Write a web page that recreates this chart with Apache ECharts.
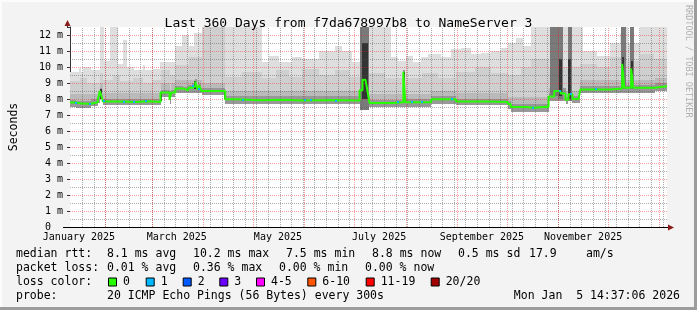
<!DOCTYPE html>
<html><head><meta charset="utf-8">
<script src="https://cdn.jsdelivr.net/npm/echarts@6/dist/echarts.min.js"></script>
<style>html,body{margin:0;padding:0;background:#f3f3f3}#c{width:697px;height:310px}</style>
</head><body><div id="c"></div>
<script>
// ---------- data ----------
const START = Date.UTC(2025,0,10,14,37,6);
const DAY = 86400000;
const SPAN_DAYS = 360;
const titleText = 'Last 360 Days from f7da678997b8 to NameServer 3';
const yTicks = [0,1,2,3,4,5,6,7,8,9,10,11,12];
const yMinor = [0.5,1.5,2.5,3.5,4.5,5.5,6.5,7.5,8.5,9.5,10.5,11.5];
const monthStarts = ['2025-02-01','2025-03-01','2025-04-01','2025-05-01','2025-06-01','2025-07-01','2025-08-01','2025-09-01','2025-10-01','2025-11-01','2025-12-01','2026-01-01'];
const weekAnchor = '2025-01-18';
const xLabels = ['January 2025','March 2025','May 2025','July 2025','September 2025','November 2025'];
const xLabelDates = ['2025-01-16','2025-03-16','2025-05-16','2025-07-16','2025-09-16','2025-11-16'];

// median rtt (ms), [day since start, value] step points
const medianPts = [[0,7.78],[3.6,7.72],[7,7.7],[12.6,7.8],[16.8,8.0],[18,8.5],[19.2,8.1],[19.8,7.85],[30,7.82],[40,7.86],[48,7.82],[54.6,8.4],[60,7.95],[61.2,8.4],[63.6,8.65],[68.4,8.55],[71.4,8.7],[73.8,8.8],[75.6,9.1],[76.8,8.6],[78,8.85],[79.2,8.5],[93.6,7.98],[100,7.92],[115.8,7.95],[128,7.9],[140,7.93],[160,7.9],[174.6,8.55],[176.4,9.2],[178.2,9.32],[179.4,8.5],[180.6,7.75],[195,7.8],[201,9.7],[202.2,7.8],[217.8,7.98],[232.8,7.85],[252,7.82],[264,7.68],[265.8,7.5],[274.8,7.45],[280,7.52],[286.8,7.5],[288.6,8.15],[292,8.5],[295.8,8.35],[298.8,7.95],[300.6,8.3],[303,8.0],[306.6,8.1],[307.8,8.6],[325.8,8.65],[333,10.2],[334.2,8.7],[338.4,9.9],[339.6,8.7],[352.8,8.8],[360,8.8]];
// smoke tops
const outerPts = [[0,9.7],[5.4,9.95],[6.6,9.7],[7.8,10.0],[12.6,9.8],[18,12.5],[20.4,10.4],[24,12.5],[28.8,10.2],[31.8,11.7],[34.2,10.0],[38.4,9.8],[43.8,10.1],[45,9.8],[49.8,9.9],[54,10.3],[63.6,11.3],[67.8,12.0],[72,11.3],[75,12.1],[79.8,12.5],[115.8,10.3],[120,10.7],[126,10.3],[133.8,10.6],[139.8,10.5],[150,11.0],[159.6,11.3],[163.8,11.0],[169.8,10.3],[174.6,12.5],[193.8,10.6],[198,10.4],[202.8,10.7],[207,10.3],[211.8,10.6],[216,10.8],[223.8,10.6],[229.8,11.1],[235.8,11.2],[241.8,10.8],[247.8,10.9],[253.8,11.0],[259.8,11.2],[264,11.5],[268.8,11.8],[273,11.3],[277.8,12.5],[309.6,11.0],[318,10.7],[325.8,11.5],[331.8,12.1],[334.8,12.5],[336.6,11.5],[343.8,12.5]];
const midPts = [[0,9.1],[6,9.3],[10,9.0],[18,9.6],[19.8,9.2],[26,9.5],[30,9.1],[37.8,9.3],[44,9.0],[50,9.2],[54.6,9.8],[60,9.5],[63.6,10.1],[72,10.6],[79.8,12.5],[93.6,9.4],[104,9.7],[115.8,9.3],[124,9.8],[132,9.4],[140,9.9],[150,9.5],[160,9.8],[168,9.4],[174.6,9.6],[190,9.3],[201,9.8],[202.2,9.3],[212,9.6],[222,9.3],[232.8,9.7],[244,10.0],[254,9.6],[264,9.5],[272,10.0],[277.8,10.5],[288.6,10.0],[307.8,10.2],[318,10.0],[325.8,10.6],[333,11.5],[336,10.4],[343.8,10.8],[352,10.5]];
const innerPts = [[0,8.3],[16.8,8.5],[18,9.0],[19.8,8.4],[54.6,9.0],[60,8.5],[61.2,9.0],[63.6,9.2],[79.8,9.0],[93.6,8.5],[174.6,9.2],[180.6,8.3],[201,9.8],[202.2,8.3],[217.8,8.5],[232.8,8.35],[264,8.1],[288.6,8.7],[298.8,8.5],[307.8,9.2],[333,10.4],[334.2,9.2],[338.4,10.2],[339.6,9.2],[352.8,9.3]];
const corePts = [[0,7.96],[3.6,7.9],[12.6,7.98],[16.8,8.18],[18,8.68],[19.2,8.28],[19.8,8.03],[54.6,8.58],[60,8.13],[61.2,8.58],[63.6,8.83],[68.4,8.73],[71.4,8.88],[73.8,8.98],[75.6,9.28],[76.8,8.78],[78,9.03],[79.2,8.68],[93.6,8.16],[174.6,8.73],[180.6,7.95],[201,9.8],[202.2,8.0],[217.8,8.16],[232.8,8.03],[264,7.86],[265.8,7.68],[288.6,8.35],[292,8.7],[298.8,8.15],[300.6,8.5],[303,8.2],[307.8,8.8],[333,10.3],[334.2,8.9],[338.4,10.1],[339.6,8.9],[352.8,9.0]];
const lowerPts = [[0,7.5],[3.6,7.45],[12.6,7.55],[16.8,7.75],[18,8.05],[19.2,7.85],[19.8,7.6],[54.6,8.1],[60,7.7],[61.2,8.1],[63.6,8.35],[79.8,8.25],[93.6,7.7],[174.6,7.3],[180.6,7.5],[217.8,7.7],[232.8,7.6],[264,7.4],[265.8,7.2],[288.6,7.85],[298.8,7.7],[300.6,7.95],[303,7.75],[307.8,8.35],[325.8,8.4],[352.8,8.5]];
// dark smoke columns [startDay, endDay, low, high]
const darkCols = [[174.6,180.6,7.3,12.5],[289.2,294,8.2,12.5],[294,297,8.0,12.5],[300,303,7.9,12.5],[332.4,335.4,8.6,12.5],[337.8,340.2,8.6,12.5]];
const blackCols = [[175.8,179.4,8.0,11.5],[294.6,296.4,8.2,10.5],[300.6,302.4,8.0,10.5],[333,334.2,8.7,10.6],[338.4,339.6,8.7,10.4],[201,202.2,7.8,9.7],[18,19.2,8.0,8.6],[54.6,55.2,7.85,8.4],[75,76.2,8.6,9.1],[93,93.6,8.0,8.5]];
// buckets with 1/20 packet lost
const lossOneDays = [3,11.4,19.8,31.8,37.8,45,73.8,77.4,103.8,141,144.6,160,197.4,205.8,211.8,229.8,278.4,294.6,301.8,316.8];

// legend texts
const rttStats = ['8.1 ms avg','10.2 ms max','7.5 ms min','8.8 ms now','0.5 ms sd','17.9','am/s'];
const lossStats = ['0.01 % avg','0.36 % max','0.00 % min','0.00 % now'];
const lossLabels = ['0','1','2','3','4-5','6-10','11-19','20/20'];
const lossColors = ['#26ff00','#00b8ff','#0059ff','#6a00ff','#ff00ff','#ff5500','#ff0000','#a00000'];
const probeText = '20 ICMP Echo Pings (56 Bytes) every 300s';
const stampText = 'Mon Jan  5 14:37:06 2026';

// ---------- layout ----------
const MONO = 'DejaVu Sans Mono';
const rttX = [107,193,286,372,458,529,586];
const lossX = [107,193,279,365];
const boxX = [108,145.7,182.7,219.3,256,307.3,365.7,430.7];
const rowY = [254.5,268.5,282.5,296.5];

const dayOf = s => (Date.parse(s + 'T00:00:00Z') - START) / DAY;
const monthDays = monthStarts.map(dayOf);
const weekDays = [];
for (let d = dayOf(weekAnchor); d < SPAN_DAYS; d += 7) weekDays.push(d);
const labelDays = xLabelDates.map(dayOf);

function stepAt(pts, t){ let v = pts[0][1]; for (const p of pts){ if (p[0] <= t) v = p[1]; else break; } return v; }
function toItems(pts){ return pts.map((p,i)=>[p[0], i+1<pts.length ? pts[i+1][0] : SPAN_DAYS, 0, p[1]]); }
function rectRender(color){
  return function(params, api){
    const a = api.coord([api.value(0), api.value(3)]);
    const b = api.coord([api.value(1), api.value(2)]);
    const x0 = Math.round(a[0]), x1 = Math.round(b[0]);
    const y0 = Math.round(a[1]), y1 = Math.round(b[1]);
    return {type:'rect', shape:{x:x0, y:y0, width:Math.max(1,x1-x0), height:y1-y0}, style:{fill:color}};
  };
}
function rectSeries(items, color, z){
  return {type:'custom', silent:true, z:z, renderItem:rectRender(color), data:items, encode:{x:[0,1], y:[2,3]}, animation:false};
}
// grid lines
const gridItems = [];
weekDays.forEach(d=>gridItems.push([d,d,0,12.5,0]));
yMinor.forEach(v=>gridItems.push([0,SPAN_DAYS,v,v,0]));
monthDays.forEach(d=>gridItems.push([d,d,0,12.5,1]));
yTicks.filter(v=>v>0).forEach(v=>gridItems.push([0,SPAN_DAYS,v,v,1]));
const gridSeries = {
  type:'custom', silent:true, z:5, data:gridItems, encode:{x:[0,1], y:[2,3]},
  renderItem(params, api){
    const a = api.coord([api.value(0), api.value(2)]);
    const b = api.coord([api.value(1), api.value(3)]);
    const major = api.value(4) === 1;
    let x0=a[0], x1=b[0], y0=a[1], y1=b[1];
    if (x0 === x1){ x0 = x1 = Math.round(x0) + 0.5; } else { y0 = y1 = Math.round(y0) + 0.5; }
    return {type:'line', shape:{x1:x0,y1:y0,x2:x1,y2:y1}, style:{stroke: major ? 'rgba(235,40,40,0.45)' : 'rgba(90,90,90,0.5)', lineWidth:1, lineDash:[1,1]}};
  }
};
const lossItems = lossOneDays.map(t=>[t, t+1.2, stepAt(medianPts,t)]);
const lossSeries = {
  type:'custom', silent:true, z:7, data:lossItems, encode:{x:[0,1], y:2},
  renderItem(params, api){
    const a = api.coord([api.value(0), api.value(2)]);
    const b = api.coord([api.value(1), api.value(2)]);
    return {type:'rect', shape:{x:Math.round(a[0]), y:Math.round(a[1])-1, width:Math.max(2,Math.round(b[0])-Math.round(a[0])), height:2}, style:{fill:'#00b8ff'}};
  }
};

const graphics = [];
// frame
graphics.push({type:'rect', shape:{x:0,y:0,width:697,height:2}, style:{fill:'#fcfcfc'}, silent:true});
graphics.push({type:'rect', shape:{x:0,y:0,width:2,height:310}, style:{fill:'#fcfcfc'}, silent:true});
graphics.push({type:'rect', shape:{x:694,y:0,width:3,height:310}, style:{fill:'#9c9c9c'}, silent:true});
graphics.push({type:'rect', shape:{x:0,y:307,width:697,height:3}, style:{fill:'#9c9c9c'}, silent:true});
// axis extensions and arrows
graphics.push({type:'line', shape:{x1:67.5,y1:27,x2:67.5,y2:22}, style:{stroke:'#333',lineWidth:1}, silent:true, z:20});
graphics.push({type:'polygon', shape:{points:[[64.5,26],[70.5,26],[67.5,20]]}, style:{fill:'#8b1a1a'}, silent:true, z:20});
graphics.push({type:'line', shape:{x1:63,y1:227.5,x2:669,y2:227.5}, style:{stroke:'#000',lineWidth:1}, silent:true, z:20});
graphics.push({type:'polygon', shape:{points:[[668,224.5],[668,230.5],[674,227.5]]}, style:{fill:'#8b1a1a'}, silent:true, z:20});
// watermark
graphics.push({type:'text', x:688, y:5, rotation:-Math.PI/2, style:{text:'RRDTOOL / TOBI OETIKER', font:'8.5px "DejaVu Sans Mono"', fill:'#b0b0b0', textAlign:'left', textVerticalAlign:'middle'}, silent:true});
// legend
function txt(x,y,t,align){ graphics.push({type:'text', x:x, y:y, style:{text:t, font:'11.5px "DejaVu Sans Mono"', fill:'#000', textAlign:align||'left', textVerticalAlign:'middle'}, silent:true}); }
txt(16,rowY[0],'median rtt:');
rttStats.forEach((s,i)=>txt(rttX[i],rowY[0],s));
txt(16,rowY[1],'packet loss:');
lossStats.forEach((s,i)=>txt(lossX[i],rowY[1],s));
txt(16,rowY[2],'loss color:');
lossLabels.forEach((s,i)=>{
  graphics.push({type:'rect', shape:{x:boxX[i]+0.5,y:rowY[2]-4.5,width:8,height:8}, style:{fill:lossColors[i], stroke:'#000', lineWidth:1}, silent:true});
  txt(boxX[i]+15,rowY[2],s);
});
txt(16,rowY[3],'probe:');
txt(107,rowY[3],probeText);
txt(680,rowY[3],stampText,'right');

const chart = echarts.init(document.getElementById('c'), null, {renderer:'canvas'});
chart.setOption({
  animation:false,
  backgroundColor:'#f3f3f3',
  title:{text:titleText, left:'center', top:12, textStyle:{fontFamily:MONO, fontSize:13, fontWeight:'normal', color:'#000'}},
  grid:{left:67, right:30, top:27, bottom:83, show:true, backgroundColor:'#ffffff', borderWidth:0},
  xAxis:{type:'value', min:0, max:SPAN_DAYS, splitLine:{show:false}, axisTick:{show:false},
    axisLine:{show:false},
    axisLabel:{customValues:labelDays, fontFamily:MONO, fontSize:10, color:'#000', margin:5,
      formatter:function(v){ let bi=0,bd=1e9; labelDays.forEach((d,i)=>{ if(Math.abs(d-v)<bd){bd=Math.abs(d-v);bi=i;} }); return xLabels[bi]; }}},
  yAxis:{type:'value', min:0, max:12.5, interval:1, splitLine:{show:false},
    axisLine:{show:true, lineStyle:{color:'#333'}},
    axisTick:{show:true, length:3, lineStyle:{color:'#333'}},
    axisLabel:{fontFamily:MONO, fontSize:10, color:'#000', margin:7, formatter:v=> v===0 ? '0  ' : (Number.isInteger(v) ? v+' m' : '')},
    name:'Seconds', nameLocation:'middle', nameGap:50, nameTextStyle:{fontFamily:MONO, fontSize:11.5, color:'#000'}},
  graphic:graphics,
  series:[
    rectSeries(toItems(outerPts),'#dedede',1),
    rectSeries(toItems(midPts),'#cfcfcf',1),
    rectSeries(toItems(innerPts),'#bababa',1),
    rectSeries(toItems(corePts),'#989898',1),
    rectSeries(toItems(lowerPts),'#ffffff',1),
    rectSeries(darkCols,'#7a7a7a',2),
    rectSeries(blackCols,'#333333',2),
    gridSeries,
    {type:'line', step:'end', symbol:'none', z:6, silent:true, data:medianPts, lineStyle:{color:'#26ff00', width:2}, animation:false},
    lossSeries
  ]
});
</script></body></html>
